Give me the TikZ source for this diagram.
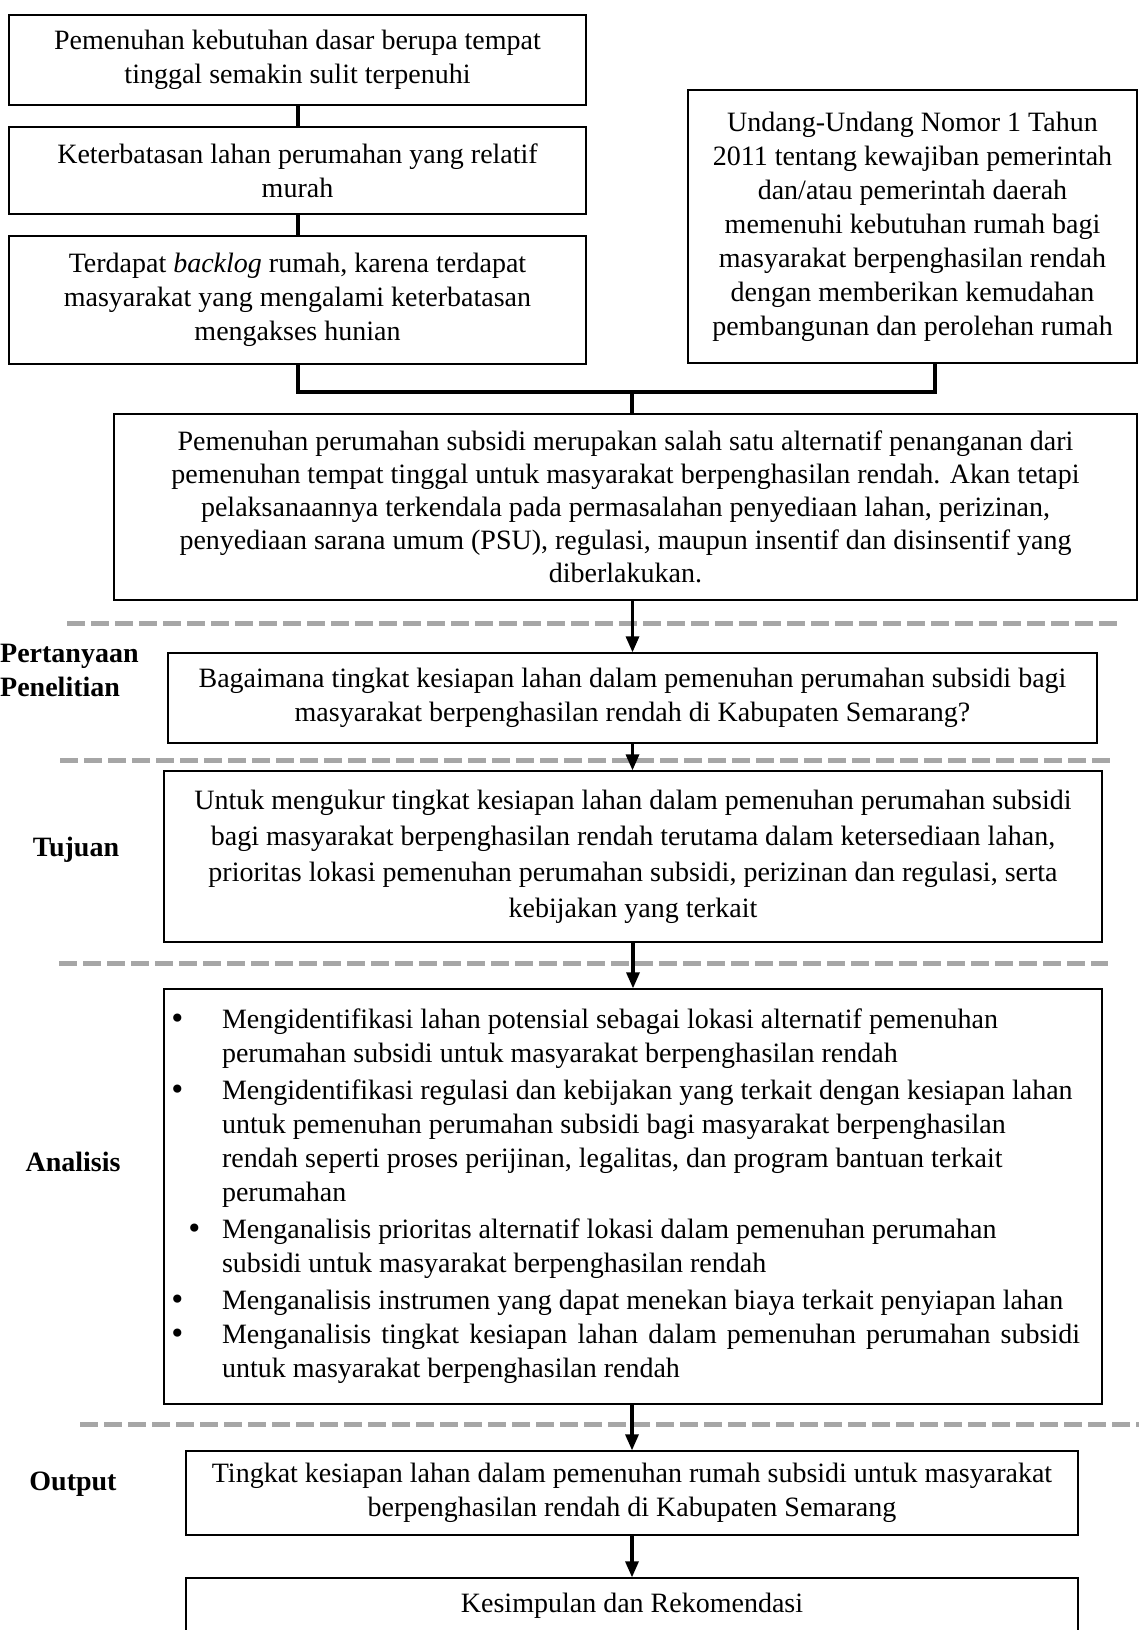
\documentclass[tikz,border=0pt]{standalone}
\usepackage{fontspec}
\setmainfont{Liberation Serif}
\newfontfamily\bulfont{DejaVu Sans}
\newcommand\bul{{\bulfont •}}
\usetikzlibrary{arrows.meta}
\definecolor{dashgray}{RGB}{166,166,166}
\tikzset{
  txt/.style={font=\fontsize{28}{34}\selectfont},
  box/.style={draw=black, line width=1.3pt, inner sep=0pt, align=center, txt},
  lbl/.style={font=\fontsize{28}{34}\selectfont\bfseries, inner sep=0pt, align=left},
  conn/.style={line width=4pt, line join=miter},
  arr/.style={line width=3.2pt, -{Triangle[length=16pt,width=13pt]}},
  sep/.style={dashgray, line width=5pt, dash pattern=on 18pt off 6pt},
}
\begin{document}
\begin{tikzpicture}[x=1pt,y=-1pt]
\useasboundingbox (0,0) rectangle (1139,1630);
\clip (0,0) rectangle (1139,1630);

% top boxes
\node[box, minimum width=577pt, minimum height=90pt] (b1) at (297.5,60)
  {Pemenuhan kebutuhan dasar berupa tempat\\tinggal semakin sulit terpenuhi};
\node[box, minimum width=577pt, minimum height=87pt] (b2) at (297.5,170.5)
  {Keterbatasan lahan perumahan yang relatif\\murah};
\node[box, minimum width=577pt, minimum height=128pt] (b3) at (297.5,300)
  {Terdapat \textit{backlog} rumah, karena terdapat\\masyarakat yang mengalami keterbatasan\\mengakses hunian};
\node[box, minimum width=449pt, minimum height=273pt] (b4) at (912.5,226.5)
  {Undang-Undang Nomor 1 Tahun\\2011 tentang kewajiban pemerintah\\dan/atau pemerintah daerah\\memenuhi kebutuhan rumah bagi\\masyarakat berpenghasilan rendah\\dengan memberikan kemudahan\\pembangunan dan perolehan rumah};

\node[box, minimum width=1023pt, minimum height=186pt, font=\fontsize{28}{33}\selectfont] (b5) at (625.5,507)
  {Pemenuhan perumahan subsidi merupakan salah satu alternatif penanganan dari\\
   pemenuhan tempat tinggal untuk masyarakat berpenghasilan rendah. Akan tetapi\\
   pelaksanaannya terkendala pada permasalahan penyediaan lahan, perizinan,\\
   penyediaan sarana umum (PSU), regulasi, maupun insentif dan disinsentif yang\\
   diberlakukan.};

\node[box, minimum width=929pt, minimum height=90pt] (b6) at (632.5,698)
  {Bagaimana tingkat kesiapan lahan dalam pemenuhan perumahan subsidi bagi\\
   masyarakat berpenghasilan rendah di Kabupaten Semarang?};

\node[box, minimum width=938pt, minimum height=171pt, font=\fontsize{28}{36}\selectfont] (b7) at (633,856.5)
  {Untuk mengukur tingkat kesiapan lahan dalam pemenuhan perumahan subsidi\\
   bagi masyarakat berpenghasilan rendah terutama dalam ketersediaan lahan,\\
   prioritas lokasi pemenuhan perumahan subsidi, perizinan dan regulasi, serta\\
   kebijakan yang terkait};

\node[box, minimum width=938pt, minimum height=415pt] (b8) at (633,1196.5)
  {\begin{tabular}{@{\hspace{5pt}}p{53pt}@{}p{880pt}@{}}
   \bul & Mengidentifikasi lahan potensial sebagai lokasi alternatif pemenuhan\\
     & perumahan subsidi untuk masyarakat berpenghasilan rendah\\[3pt]
   \bul & Mengidentifikasi regulasi dan kebijakan yang terkait dengan kesiapan lahan\\
     & untuk pemenuhan perumahan subsidi bagi masyarakat berpenghasilan\\
     & rendah seperti proses perijinan, legalitas, dan program bantuan terkait\\
     & perumahan\\[3pt]
   \hspace*{17pt}\bul & Menganalisis prioritas alternatif lokasi dalam pemenuhan perumahan\\
     & subsidi untuk masyarakat berpenghasilan rendah\\[3pt]
   \bul & Menganalisis instrumen yang dapat menekan biaya terkait penyiapan lahan\\
   \bul & \makebox[858pt][s]{Menganalisis tingkat kesiapan lahan dalam pemenuhan perumahan subsidi}\\
     & untuk masyarakat berpenghasilan rendah
   \end{tabular}};

\node[box, minimum width=892pt, minimum height=84pt] (b9) at (632,1493)
  {Tingkat kesiapan lahan dalam pemenuhan rumah subsidi untuk masyarakat\\
   berpenghasilan rendah di Kabupaten Semarang};
\node[box, minimum width=892pt, minimum height=56pt] (b10) at (632,1606)
  {Kesimpulan dan Rekomendasi};

% side labels
\node[lbl, anchor=west] (lq) at (0,670) {Pertanyaan\\Penelitian};
\node[lbl] (lt) at (76,850) {Tujuan};
\node[lbl] (la) at (73,1162) {Analisis};
\node[lbl] (lo) at (73,1484) {Output};

% separators
\coordinate (s1a) at (67,623);  \coordinate (s1b) at (1119,623);
\coordinate (s2a) at (60,760);  \coordinate (s2b) at (1110,760);
\coordinate (s3a) at (59,963);  \coordinate (s3b) at (1108,963);
\coordinate (s4a) at (80,1424); \coordinate (s4b) at (1139,1424);
\draw[sep] (s1a) -- (s1b);
\draw[sep] (s2a) -- (s2b);
\draw[sep] (s3a) -- (s3b);
\draw[sep] (s4a) -- (s4b);

% connectors
\draw[conn] (b1.south) -- (b2.north);
\draw[conn] (b2.south) -- (b3.north);
\coordinate (bus) at (632,392);
\draw[conn] (b3.south) |- (bus) -| ([xshift=22.5pt]b4.south);
\draw[conn] (bus) -- (bus |- b5.north);

% arrows
\draw[arr] (b5.south -| b6.north) -- (b6.north);
\draw[arr] (b6.south) -- (b6.south |- b7.north);
\draw[arr] (b7.south) -- (b8.north);
\draw[arr] (b8.south -| b9.north) -- (b9.north);
\draw[arr] (b9.south) -- (b10.north);
\end{tikzpicture}
\end{document}
